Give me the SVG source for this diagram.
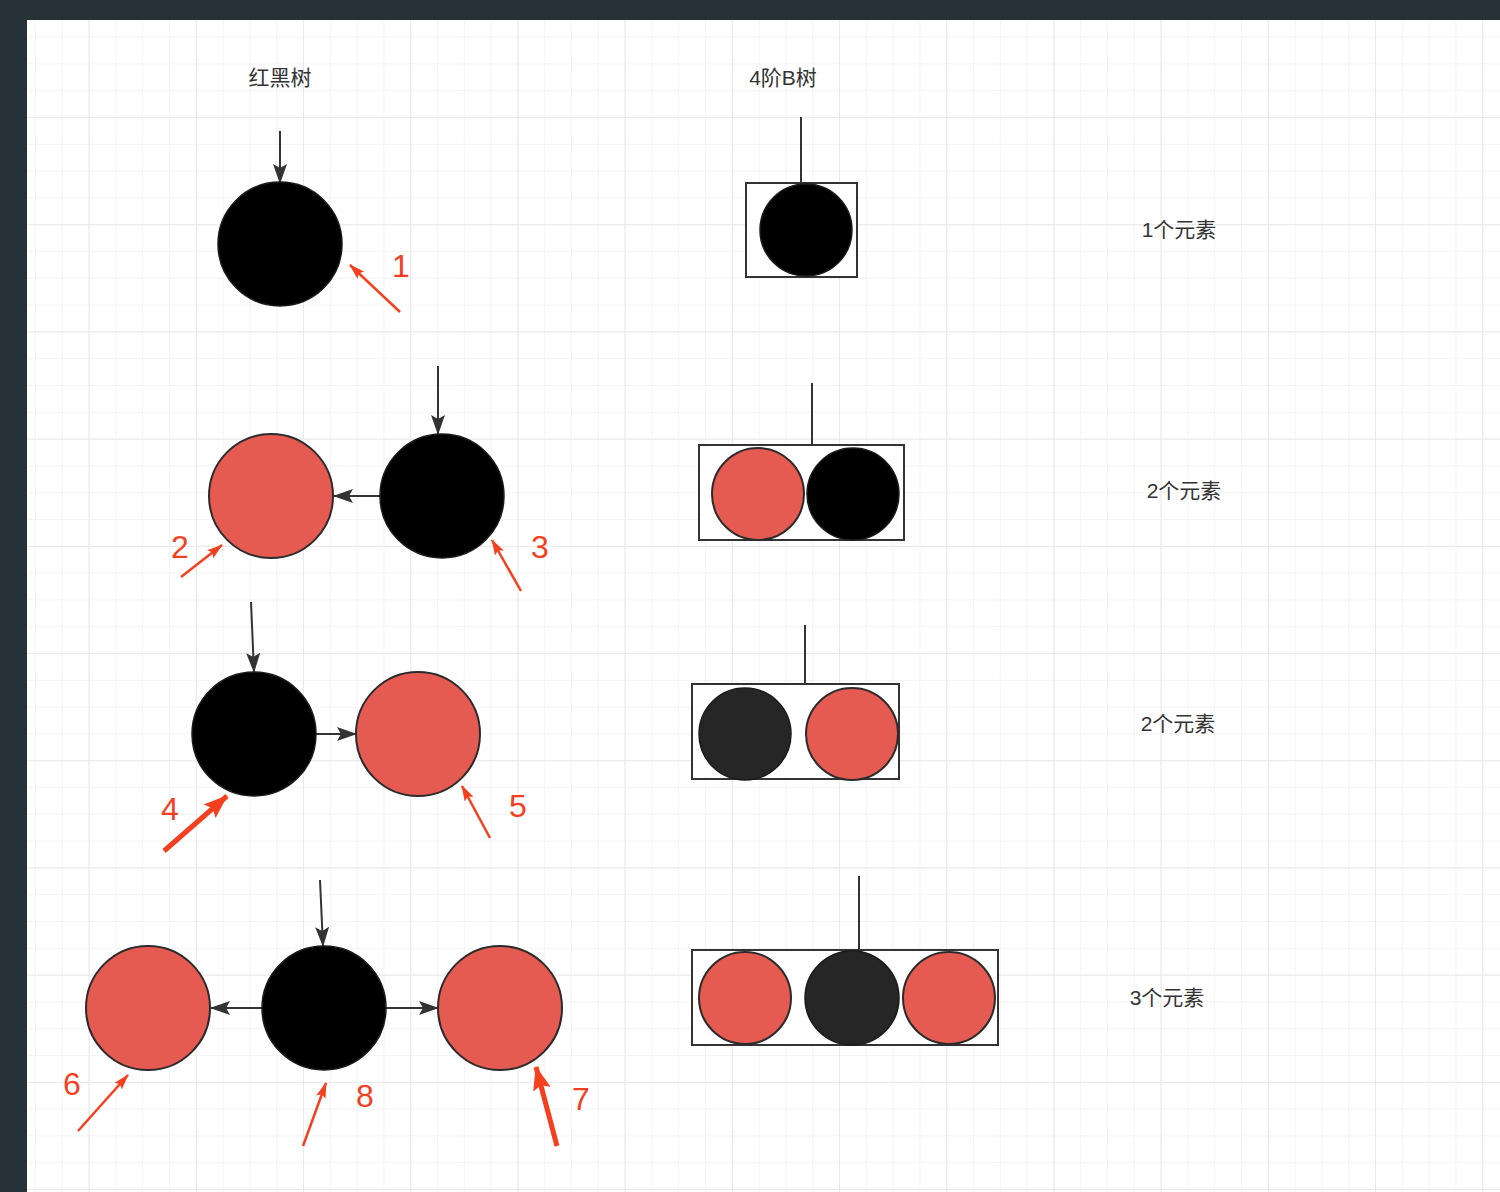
<svg xmlns="http://www.w3.org/2000/svg" width="1500" height="1192" viewBox="0 0 1500 1192">
  <style>
    .title { font-family: "Liberation Sans", "Noto Sans CJK SC", sans-serif; font-size: 21px; fill: #333333; text-anchor: middle; }
    .num { font-family: "Liberation Sans", "Noto Sans CJK SC", sans-serif; font-size: 32px; fill: #f5401f; text-anchor: middle; }
    .blk { fill: #000000; stroke: #1a1a1a; stroke-width: 1.5; }
    .dk { fill: #262626; stroke: #1a1a1a; stroke-width: 1.5; }
    .red { fill: #e55b51; stroke: #2b2b2b; stroke-width: 2; }
    .box { fill: #ffffff; stroke: #333333; stroke-width: 2; }
    .conn { stroke: #333333; stroke-width: 2; fill: none; }
    .stem { stroke: #333333; stroke-width: 2; fill: none; }
    .ann { stroke: #f5401f; stroke-width: 2.5; fill: none; }
    .annThick { stroke: #f5401f; stroke-width: 5; fill: none; }
  </style>
  <defs>
    <pattern id="gridMinor" patternUnits="userSpaceOnUse" x="35" y="36.6" width="26.8" height="26.8">
      <path d="M0 0 H26.8 M0 0 V26.8" stroke="#f1f1f1" stroke-width="1.5" fill="none"/>
    </pattern>
    <pattern id="gridMajor" patternUnits="userSpaceOnUse" x="88.6" y="117" width="107.2" height="107.2">
      <path d="M0 0 H107.2 M0 0 V107.2" stroke="#e9e9e9" stroke-width="2" fill="none"/>
    </pattern>
    <marker id="arrowBlack" viewBox="0 0 20 14" refX="19" refY="7" markerWidth="20" markerHeight="14" markerUnits="userSpaceOnUse" orient="auto">
      <path d="M0 0 L20 7 L0 14 L4 7 Z" fill="#333333"/>
    </marker>
    <marker id="arrowRed" viewBox="0 0 16 10" refX="15" refY="5" markerWidth="16" markerHeight="10" markerUnits="userSpaceOnUse" orient="auto">
      <path d="M0 0 L16 5 L0 10 L3 5 Z" fill="#f5401f"/>
    </marker>
    <marker id="arrowRedBig" viewBox="0 0 24 18" refX="23" refY="9" markerWidth="24" markerHeight="18" markerUnits="userSpaceOnUse" orient="auto">
      <path d="M0 0 L24 9 L0 18 L4 9 Z" fill="#f5401f"/>
    </marker>
  </defs>

  <rect x="0" y="0" width="1500" height="1192" fill="#263238"/>
  <rect x="27" y="20" width="1473" height="1172" fill="#ffffff"/>
  <rect x="27" y="20" width="1473" height="1172" fill="url(#gridMinor)"/>
  <rect x="27" y="20" width="1473" height="1172" fill="url(#gridMajor)"/>

  <g id="titles">
    <text class="title" x="280" y="85">红黑树</text>
    <text class="title" x="783" y="85">4阶B树</text>
  </g>

  <g id="connectors">
    <line class="conn" x1="280" y1="131" x2="280" y2="183" marker-end="url(#arrowBlack)"/>
    <line class="conn" x1="438" y1="366" x2="438" y2="434" marker-end="url(#arrowBlack)"/>
    <line class="conn" x1="380" y1="496" x2="334" y2="496" marker-end="url(#arrowBlack)"/>
    <line class="conn" x1="251" y1="602" x2="254" y2="672" marker-end="url(#arrowBlack)"/>
    <line class="conn" x1="316" y1="734" x2="356" y2="734" marker-end="url(#arrowBlack)"/>
    <line class="conn" x1="320" y1="880" x2="323" y2="946" marker-end="url(#arrowBlack)"/>
    <line class="conn" x1="262" y1="1008" x2="211" y2="1008" marker-end="url(#arrowBlack)"/>
    <line class="conn" x1="386" y1="1008" x2="438" y2="1008" marker-end="url(#arrowBlack)"/>

    <line class="ann" x1="400" y1="312" x2="350" y2="265" marker-end="url(#arrowRed)"/>
    <line class="ann" x1="181" y1="577" x2="222" y2="545" marker-end="url(#arrowRed)"/>
    <line class="ann" x1="521" y1="591" x2="492" y2="540" marker-end="url(#arrowRed)"/>
    <line class="annThick" x1="164" y1="851" x2="227" y2="796" marker-end="url(#arrowRedBig)"/>
    <line class="ann" x1="490" y1="838" x2="462" y2="786" marker-end="url(#arrowRed)"/>
    <line class="ann" x1="78" y1="1131" x2="128" y2="1075" marker-end="url(#arrowRed)"/>
    <line class="ann" x1="303" y1="1146" x2="326" y2="1083" marker-end="url(#arrowRed)"/>
    <line class="annThick" x1="557" y1="1146" x2="536" y2="1067" marker-end="url(#arrowRedBig)"/>

    <line class="stem" x1="801" y1="117" x2="801" y2="183"/>
    <line class="stem" x1="812" y1="383" x2="812" y2="445"/>
    <line class="stem" x1="805" y1="625" x2="805" y2="684"/>
    <line class="stem" x1="859" y1="876" x2="859" y2="950"/>
  </g>

  <g id="rb-node-1"><circle class="blk" cx="280" cy="244" r="62"/></g>
  <g id="rb-node-2"><circle class="red" cx="271" cy="496" r="62"/></g>
  <g id="rb-node-3"><circle class="blk" cx="442" cy="496" r="62"/></g>
  <g id="rb-node-4"><circle class="blk" cx="254" cy="734" r="62"/></g>
  <g id="rb-node-5"><circle class="red" cx="418" cy="734" r="62"/></g>
  <g id="rb-node-6"><circle class="red" cx="148" cy="1008" r="62"/></g>
  <g id="rb-node-8"><circle class="blk" cx="324" cy="1008" r="62"/></g>
  <g id="rb-node-7"><circle class="red" cx="500" cy="1008" r="62"/></g>

  <g id="labels-numbers">
    <text class="num" x="401" y="277">1</text>
    <text class="num" x="180" y="558">2</text>
    <text class="num" x="540" y="558">3</text>
    <text class="num" x="170" y="820">4</text>
    <text class="num" x="518" y="817">5</text>
    <text class="num" x="72" y="1095">6</text>
    <text class="num" x="365" y="1107">8</text>
    <text class="num" x="581" y="1110">7</text>
  </g>

  <g id="btree-node-1">
    <rect class="box" x="746" y="183" width="111" height="94"/>
    <circle class="blk" cx="806" cy="230" r="46"/>
  </g>
  <g id="btree-node-2">
    <rect class="box" x="699" y="445" width="205" height="95"/>
    <circle class="red" cx="758" cy="494" r="46"/>
    <circle class="blk" cx="853" cy="494" r="46"/>
  </g>
  <g id="btree-node-3">
    <rect class="box" x="692" y="684" width="207" height="95"/>
    <circle class="dk" cx="745" cy="734" r="46"/>
    <circle class="red" cx="852" cy="734" r="46"/>
  </g>
  <g id="btree-node-4">
    <rect class="box" x="692" y="950" width="306" height="95"/>
    <circle class="red" cx="745" cy="998" r="46"/>
    <circle class="dk" cx="852" cy="998" r="47"/>
    <circle class="red" cx="949" cy="998" r="46"/>
  </g>

  <g id="row-labels">
    <text class="title" x="1179" y="237">1个元素</text>
    <text class="title" x="1184" y="498">2个元素</text>
    <text class="title" x="1178" y="731">2个元素</text>
    <text class="title" x="1167" y="1005">3个元素</text>
  </g>
</svg>
